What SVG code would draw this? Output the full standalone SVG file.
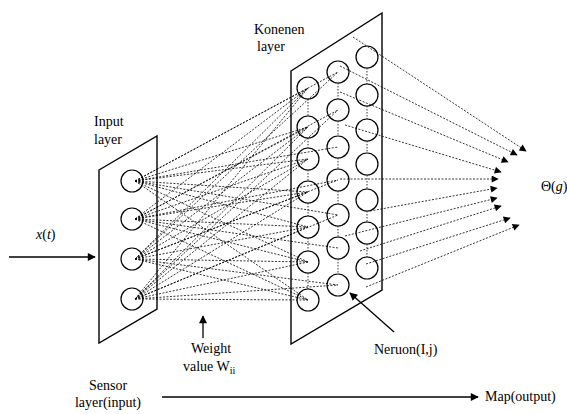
<svg xmlns="http://www.w3.org/2000/svg" width="567" height="414" viewBox="0 0 567 414">
  <style>
    .panel { fill: none; stroke: #000; stroke-width: 1.4; }
    .neuron { fill: none; stroke: #000; stroke-width: 1.2; }
    .link { fill: none; stroke: #000; stroke-width: 0.8; stroke-dasharray: 2 1.5; }
    .grid { fill: none; stroke: #000; stroke-width: 0.8; stroke-dasharray: 1.5 1.5; }
    .arrow { fill: none; stroke: #000; stroke-width: 1.3; }
    .lbl { font-family: "Liberation Serif", "Times New Roman", serif; font-size: 14px; fill: #000; }
  </style>
  <defs>
    <marker id="head" viewBox="0 0 10 10" refX="9" refY="5" markerWidth="9" markerHeight="7" markerUnits="userSpaceOnUse" orient="auto">
      <path d="M0,0 L10,5 L0,10 Z" fill="#000"/>
    </marker>
    <marker id="headBig" viewBox="0 0 10 10" refX="9" refY="5" markerWidth="11" markerHeight="8" markerUnits="userSpaceOnUse" orient="auto">
      <path d="M0,0 L10,5 L0,10 Z" fill="#000"/>
    </marker>
  </defs>

  <!-- input layer -->
  <g id="input-layer">
    <polygon class="panel" points="99,170 157,136 157,309 99,343"/>
    <circle class="neuron" cx="132" cy="181" r="11"/>
    <circle class="neuron" cx="132" cy="219" r="11"/>
    <circle class="neuron" cx="132" cy="259" r="11"/>
    <circle class="neuron" cx="132" cy="299" r="11"/>
    <text class="lbl" x="94" y="126">Input</text>
    <text class="lbl" x="94" y="144">layer</text>
  </g>

  <!-- Kohonen layer -->
  <g id="kohonen-layer">
    <polygon class="panel" points="291,71 382,13 382,290 291,344"/>
    <g id="col-left">
      <circle class="neuron" cx="308" cy="88" r="11"/>
      <circle class="neuron" cx="308" cy="127" r="11"/>
      <circle class="neuron" cx="308" cy="159" r="11"/>
      <circle class="neuron" cx="308" cy="192" r="11"/>
      <circle class="neuron" cx="308" cy="227" r="11"/>
      <circle class="neuron" cx="308" cy="262" r="11"/>
      <circle class="neuron" cx="308" cy="300" r="11"/>
    </g>
    <g id="col-mid">
      <circle class="neuron" cx="338" cy="72" r="11"/>
      <circle class="neuron" cx="338" cy="110" r="11"/>
      <circle class="neuron" cx="338" cy="147" r="11"/>
      <circle class="neuron" cx="338" cy="180" r="11"/>
      <circle class="neuron" cx="338" cy="215" r="11"/>
      <circle class="neuron" cx="338" cy="248" r="11"/>
      <circle class="neuron" cx="338" cy="285" r="11"/>
    </g>
    <g id="col-right">
      <circle class="neuron" cx="367" cy="57" r="11"/>
      <circle class="neuron" cx="367" cy="95" r="11"/>
      <circle class="neuron" cx="367" cy="130" r="11"/>
      <circle class="neuron" cx="367" cy="164" r="11"/>
      <circle class="neuron" cx="367" cy="200" r="11"/>
      <circle class="neuron" cx="367" cy="233" r="11"/>
      <circle class="neuron" cx="367" cy="268" r="11"/>
    </g>
    <text class="lbl" x="254" y="34">Konenen</text>
    <text class="lbl" x="257" y="51">layer</text>
  </g>

  <!-- output label -->
  <g id="output">
    <text class="lbl" x="541" y="191" font-size="15">Θ(<tspan font-style="italic">g</tspan>)</text>
  </g>

  <!-- connectors -->
  <g id="connectors">
    <!-- neighbourhood lines inside each Kohonen column -->
    <path class="grid" d="M308,99 V116 M308,138 V148 M308,170 V181 M308,203 V216 M308,238 V251 M308,273 V289
                          M338,83 V99 M338,121 V136 M338,158 V169 M338,191 V204 M338,226 V237 M338,259 V274
                          M367,68 V84 M367,106 V119 M367,141 V153 M367,175 V189 M367,211 V222 M367,244 V257"/>

    <!-- weights: input neurons to Kohonen neurons -->
    <path class="link" d="
      M135,181 L308,88 M135,181 L308,127 M135,181 L308,159 M135,181 L308,192 M135,181 L308,227 M135,181 L308,262 M135,181 L308,300
      M135,181 L338,72 M135,181 L338,147 M135,181 L338,215
      M135,219 L308,88 M135,219 L308,127 M135,219 L308,159 M135,219 L308,192 M135,219 L308,227 M135,219 L308,262 M135,219 L308,300
      M135,219 L338,110 M135,219 L338,180 M135,219 L338,248
      M135,259 L308,88 M135,259 L308,127 M135,259 L308,159 M135,259 L308,192 M135,259 L308,227 M135,259 L308,262 M135,259 L308,300
      M135,259 L338,72 M135,259 L338,180 M135,259 L338,285
      M135,299 L308,88 M135,299 L308,127 M135,299 L308,159 M135,299 L308,192 M135,299 L308,227 M135,299 L308,262 M135,299 L308,300
      M135,299 L338,110 M135,299 L338,215 M135,299 L338,285"/>

    <!-- Kohonen neurons to output map -->
    <g class="link" marker-end="url(#head)">
      <line x1="353" y1="37" x2="526" y2="151"/>
      <line x1="340" y1="66" x2="517" y2="155"/>
      <line x1="340" y1="92" x2="508" y2="162"/>
      <line x1="345" y1="125" x2="501" y2="172"/>
      <line x1="340" y1="179" x2="498" y2="179"/>
      <line x1="370" y1="211" x2="497" y2="188"/>
      <line x1="345" y1="236" x2="497" y2="198"/>
      <line x1="360" y1="251" x2="501" y2="206"/>
      <line x1="366" y1="264" x2="510" y2="218"/>
      <line x1="366" y1="287" x2="519" y2="225"/>
    </g>
  </g>

  <!-- annotations -->
  <g id="signal-in">
    <line class="arrow" x1="9" y1="257" x2="95" y2="257" marker-end="url(#headBig)"/>
    <text class="lbl" x="36" y="239"><tspan font-style="italic">x</tspan>(<tspan font-style="italic">t</tspan>)</text>
  </g>

  <g id="weight-note">
    <line class="arrow" x1="203" y1="338" x2="203" y2="316" marker-end="url(#headBig)"/>
    <text class="lbl" x="211" y="353" text-anchor="middle">Weight</text>
    <text class="lbl" x="183" y="371">value W<tspan font-size="10" dy="3">ii</tspan></text>
  </g>

  <g id="neuron-note">
    <line class="arrow" x1="394" y1="332" x2="350" y2="293" marker-end="url(#headBig)"/>
    <text class="lbl" x="374" y="354">Neruon(I,j)</text>
  </g>

  <g id="flow">
    <line class="arrow" x1="162" y1="397" x2="478" y2="397" marker-end="url(#headBig)"/>
    <text class="lbl" x="108" y="390" text-anchor="middle">Sensor</text>
    <text class="lbl" x="108" y="407" text-anchor="middle">layer(input)</text>
    <text class="lbl" x="485" y="401">Map(output)</text>
  </g>
</svg>
